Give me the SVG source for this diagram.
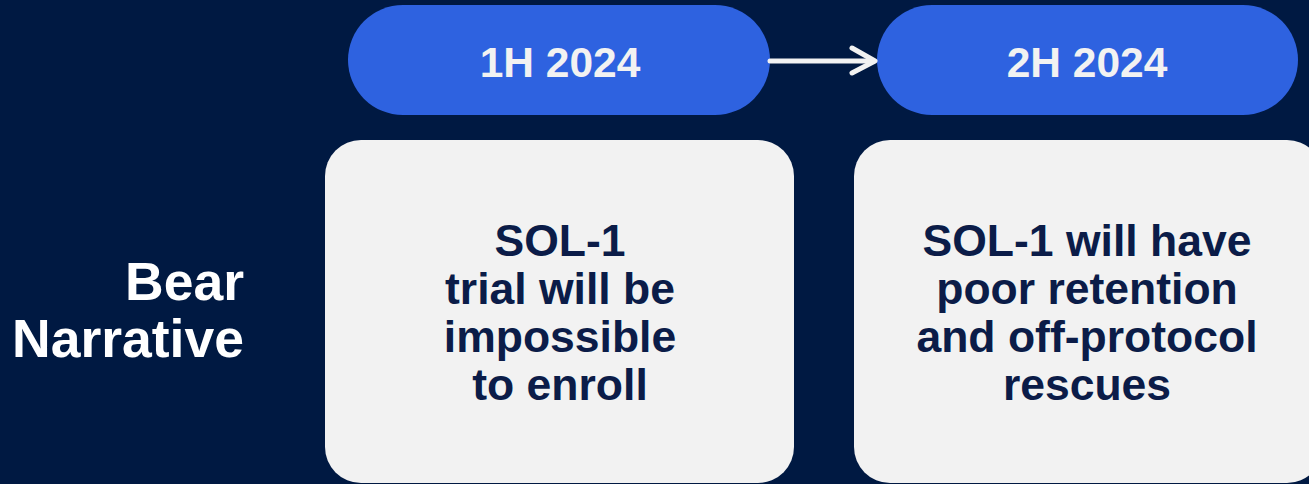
<svg xmlns="http://www.w3.org/2000/svg" width="1309" height="484" viewBox="0 0 1309 484">
  <style>
    .pill { fill: #2e62e0; }
    .pill-label { font-family: "Liberation Sans", Arial, sans-serif; font-weight: bold; font-size: 42.5px; fill: #f2f2f2; text-anchor: middle; }
    .card { fill: #f2f2f2; }
    .card-text { font-family: "Liberation Sans", Arial, sans-serif; font-weight: bold; font-size: 44.5px; fill: #0b1c48; text-anchor: middle; }
    .side-label { font-family: "Liberation Sans", Arial, sans-serif; font-weight: bold; font-size: 53.5px; fill: #ffffff; text-anchor: end; }
    .link { stroke: #f2f2f2; stroke-width: 5; fill: none; stroke-linecap: round; stroke-linejoin: round; }
  </style>

  <rect width="1309" height="484" fill="#001942"/>

  <g id="row-label">
    <text class="side-label" x="244" y="300">Bear</text>
    <text class="side-label" x="244" y="357">Narrative</text>
  </g>

  <g id="period-1h">
    <rect class="pill" x="348" y="5" width="422" height="110" rx="55"/>
    <text class="pill-label" x="560" y="77">1H 2024</text>
  </g>

  <g id="period-2h">
    <rect class="pill" x="877" y="5" width="421" height="110" rx="55"/>
    <text class="pill-label" x="1087" y="77">2H 2024</text>
  </g>

  <g id="connectors">
    <line class="link" x1="770" y1="61" x2="873" y2="61"/>
    <polyline class="link" stroke-width="6" points="852,48 875,61 852,73"/>
  </g>

  <g id="card-1h">
    <rect class="card" x="325" y="140" width="469" height="343" rx="36"/>
    <text class="card-text" x="560" y="256">SOL-1</text>
    <text class="card-text" x="560" y="304">trial will be</text>
    <text class="card-text" x="560" y="352">impossible</text>
    <text class="card-text" x="560" y="400">to enroll</text>
  </g>

  <g id="card-2h">
    <rect class="card" x="854" y="140" width="469" height="343" rx="36"/>
    <text class="card-text" x="1087" y="256">SOL-1 will have</text>
    <text class="card-text" x="1087" y="304">poor retention</text>
    <text class="card-text" x="1087" y="352">and off-protocol</text>
    <text class="card-text" x="1087" y="400">rescues</text>
  </g>
</svg>
